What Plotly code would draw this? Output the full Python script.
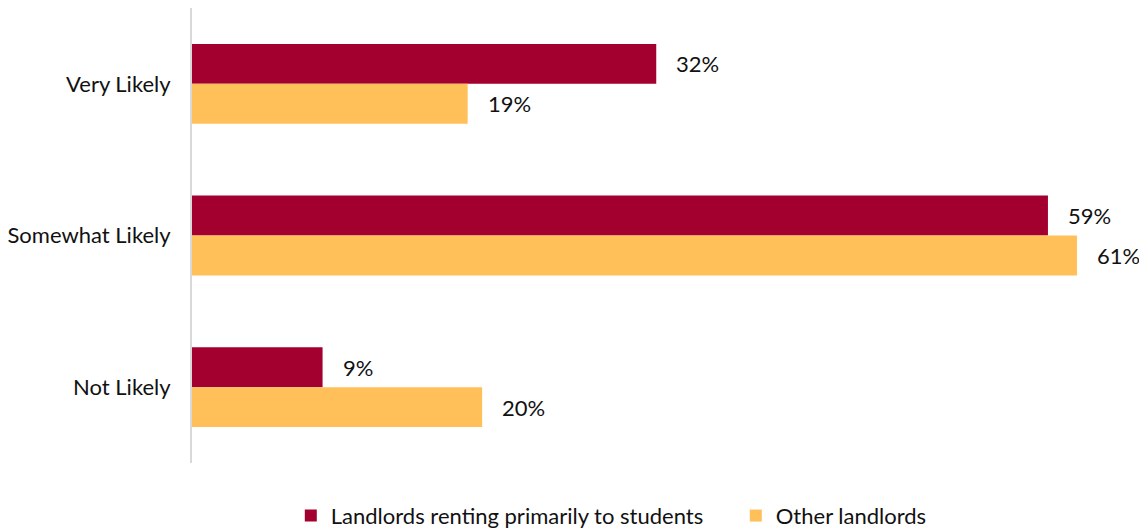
import plotly.graph_objects as go

categories = ["Very Likely", "Somewhat Likely", "Not Likely"]
students = [32, 59, 9]
others = [19, 61, 20]
series_names = ["Landlords renting primarily to students", "Other landlords"]
colors = ["#A3002F", "#FFBF59"]

font_family = "Lato, 'Open Sans', sans-serif"
fs = 22

fig = go.Figure()
for name, vals, col in zip(series_names, [students, others], colors):
    fig.add_trace(go.Bar(
        y=categories, x=vals, name=name, orientation="h",
        marker=dict(color=col, line=dict(width=0)),
        textposition="none",
    ))

# value labels placed just right of each bar end
for ti, vals in enumerate([students, others]):
    for ci, v in enumerate(vals):
        fig.add_annotation(
            x=v, y=categories[ci], xref="x", yref="y",
            text=f"{v}%", showarrow=False, xanchor="left",
            xshift=18, yshift=(20 if ti == 0 else -20),
            font=dict(size=fs, color="#111111", family=font_family),
        )

fig.update_layout(
    width=1139, height=529,
    margin=dict(l=192, r=4, t=8, b=66),
    paper_bgcolor="white", plot_bgcolor="white",
    barmode="group", bargap=0.474, bargroupgap=0,
    font=dict(family=font_family, size=fs, color="#111111"),
    xaxis=dict(range=[0, 65], visible=False, showgrid=False, zeroline=False),
    yaxis=dict(
        autorange="reversed", showgrid=False, zeroline=False,
        showline=True, linecolor="#D9D9D9", linewidth=2,
        ticks="", ticklabelstandoff=15,
        tickfont=dict(size=fs, color="#111111"),
    ),
    legend=dict(
        orientation="h", xref="container", x=0.646, xanchor="center",
        yref="container", y=0.025, yanchor="middle",
        font=dict(size=fs, color="#111111"), traceorder="normal",
        itemwidth=30, entrywidth=400,
    ),
    showlegend=True,
)

fig.write_html("out.html")
